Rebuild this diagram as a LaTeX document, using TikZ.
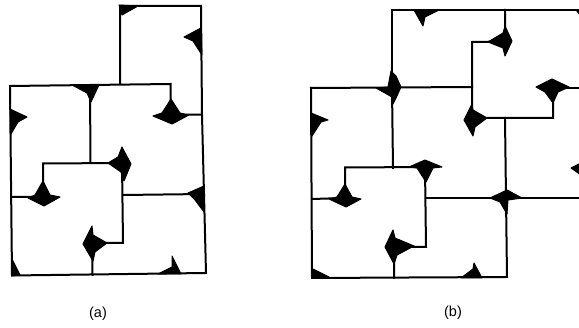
\documentclass[tikz,border=0pt]{standalone}
\usepackage{fontspec}
\setmainfont{Liberation Sans}
\tikzset{wall/.style={line width=2pt,line join=miter,line cap=rect,black},
 blob/.style={fill=black,draw=black,line width=1pt,line join=round},
 figlabel/.style={font=\fontsize{14.5}{16}\selectfont,inner sep=0pt,black}}
\begin{document}
\begin{tikzpicture}[x=1pt,y=-1pt]
\useasboundingbox (0,0) rectangle (579,328);
\clip (0,0) rectangle (579,328);
% (a)
\draw[wall] (120,84.5)--(120,6)--(201,6)--(202,115)--(206,273)--(12,275.5)--(10,86)--(170.5,84)--(170.5,105);
\draw[wall] (171,115)--(202,114.5);
\draw[wall] (90,86)--(90.5,163);
\draw[wall] (11,197)--(43,197)--(43,163.5)--(122,163)--(123,243)--(92,243)--(92.5,275);
\draw[wall] (123,195)--(204,194);
\filldraw[blob] (119,5)--(138,6)--(122,15)--cycle;
\filldraw[blob] (201,28)--(184,37)--(193,41)--(202,55)--cycle;
\filldraw[blob] (73,85.5)--(99,85)--(91,102)--(87,93)--cycle;
\filldraw[blob] (10,109)--(27,117)--(18,122)--(11,134)--cycle;
\filldraw[blob] (171,99)--(180,113)--(189,115)--(172,124)--(153,116)--(162,113)--cycle;
\filldraw[blob] (108,163)--(118,157)--(122,147)--(131,164)--(124,181)--(121,172)--cycle;
\filldraw[blob] (43,181)--(50,195)--(60,197)--(44,206)--(28,198)--(35,195)--cycle;
\filldraw[blob] (188,193)--(204,186)--(204,212)--(195,200)--cycle;
\filldraw[blob] (92,226)--(93,235)--(107,243)--(95,252)--(93,261)--(83,244)--cycle;
\filldraw[blob] (12,259)--(20,275)--(12,276)--cycle;
\filldraw[blob] (158,274)--(172,267)--(172,256)--(181,274)--cycle;
% (b)
\draw[wall] (311,88)--(472,87);
\draw[wall] (392,88)--(392,10)--(579,10);
\draw[wall] (311,88)--(312,278)--(507,277)--(505,118);
\draw[wall] (392,88)--(393,168);
\draw[wall] (312,199)--(345,198)--(345,167.5)--(425,167)--(426,247)--(394,247)--(394,278);
\draw[wall] (426,198)--(579,198);
\draw[wall] (505,10)--(505,41.5)--(472,42)--(472,118)--(553,118)--(553,100);
\draw[wall] (553,88)--(579,88);
\filldraw[blob] (414,10)--(439,10)--(425,17)--(423,26)--cycle;
\filldraw[blob] (488,42)--(503,33)--(505,26)--(512,41)--(505,56)--(503,48)--cycle;
\filldraw[blob] (391,71)--(396,76)--(401,87)--(396,98)--(393,104)--(392,97)--(376,88)--(388,87)--cycle;
\filldraw[blob] (311,113)--(328,120)--(321,122)--(312,136)--cycle;
\filldraw[blob] (472,104)--(473,110)--(487,118)--(475,127)--(473,136)--(464,120)--cycle;
\filldraw[blob] (536,87)--(552,79)--(569,87)--(558,92)--(553,103)--(545,92)--cycle;
\filldraw[blob] (409,167)--(425,160)--(442,167)--(433,168)--(426,182)--(417,168)--cycle;
\filldraw[blob] (345,184)--(352,197)--(361,199)--(346,207)--(329,199)--(337,197)--cycle;
\filldraw[blob] (490,198)--(507,190)--(522,198)--(508,200)--(507,214)--(500,202)--cycle;
\filldraw[blob] (393,230)--(395,238)--(414,246)--(397,255)--(394,264)--(385,247)--cycle;
\filldraw[blob] (313,269)--(329,277)--(312,278)--cycle;
\filldraw[blob] (461,278)--(473,269)--(474,263)--(482,278)--cycle;
\filldraw[blob] (571,168)--(581,163)--(581,175)--cycle;
\filldraw[blob] (576,10)--(581,10)--(581,16)--cycle;
\node[figlabel] (la) at (98,314) {(a)};
\node[figlabel] (lb) at (453,313) {(b)};
\end{tikzpicture}
\end{document}
